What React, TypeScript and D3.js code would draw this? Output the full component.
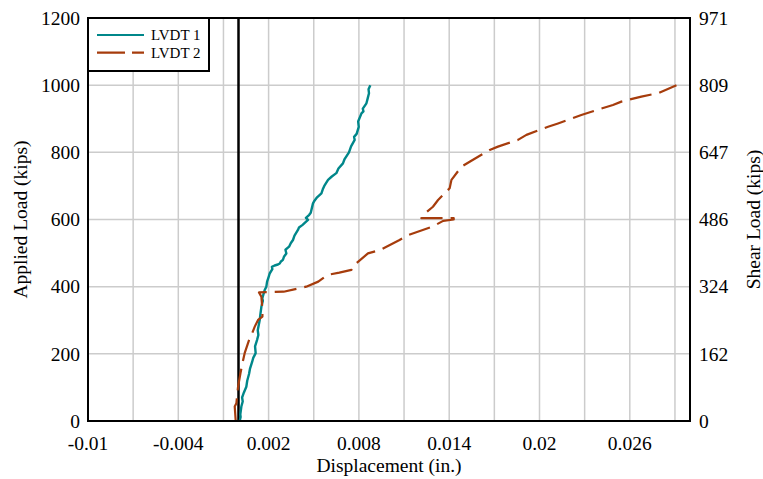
import React from 'react';
import * as d3 from 'd3';

const W = 763;
const H = 479;
const M = { left: 88, right: 73, top: 18, bottom: 58 };

const xDomain = [-0.01, 0.03];
const yDomain = [0, 1200];
const shearMax = 970.8;

const xTickValues = [-0.01, -0.004, 0.002, 0.008, 0.014, 0.02, 0.026];
const xTickLabels = ['-0.01', '-0.004', '0.002', '0.008', '0.014', '0.02', '0.026'];
const xGridValues = [-0.007, -0.004, -0.001, 0.002, 0.005, 0.008, 0.011, 0.014, 0.017, 0.02, 0.023, 0.026, 0.029];
const yTickValues = [0, 200, 400, 600, 800, 1000, 1200];
const shearTickValues = [0, 162, 324, 486, 647, 809, 971];

const lvdt1Disp = [0.00008, 0.00014, 0.00012, 0.00019, 0.00028, 0.00024, 0.00036, 0.00052, 0.00058, 0.0007, 0.00076, 0.0009, 0.00098, 0.00114, 0.0011, 0.00123, 0.00132, 0.00128, 0.00141, 0.00146, 0.00152, 0.00162, 0.00158, 0.00174, 0.00185, 0.0019, 0.00201, 0.00208, 0.00225, 0.00222, 0.0024, 0.00262, 0.00274, 0.00282, 0.00295, 0.00303, 0.00318, 0.00312, 0.00336, 0.00348, 0.00362, 0.00372, 0.00395, 0.00402, 0.00426, 0.0044, 0.00462, 0.00448, 0.0047, 0.0048, 0.00495, 0.00505, 0.00522, 0.00551, 0.0056, 0.0057, 0.00595, 0.0062, 0.0065, 0.00664, 0.00694, 0.00705, 0.00734, 0.00748, 0.00772, 0.00768, 0.00785, 0.00799, 0.00795, 0.00817, 0.0083, 0.00826, 0.0085, 0.00858, 0.00867, 0.00864, 0.00876];
const lvdt1Load = [0, 12, 20, 43, 58, 70, 85, 102, 120, 140, 155, 175, 188, 202, 222, 241, 256, 270, 301, 320, 340, 358, 365, 390, 400, 415, 430, 440, 452, 459, 463, 466, 469, 475, 480, 490, 499, 510, 519, 530, 539, 552, 569, 576, 584, 590, 599, 605, 614, 620, 648, 656, 666, 678, 690, 700, 718, 728, 738, 752, 767, 780, 800, 818, 837, 846, 855, 876, 892, 916, 922, 930, 946, 960, 976, 988, 1000];

const lvdt2Disp = [-0.00019, -0.00025, -0.00014, -0.00003, 0.00013, 0.00026, 0.00041, 0.0007, 0.00086, 0.00108, 0.0013, 0.00159, 0.00159, 0.00152, 0.00136, 0.003, 0.0045, 0.0053, 0.0059, 0.0067, 0.0075, 0.0077, 0.0086, 0.0094, 0.0107, 0.0113, 0.0129, 0.0136, 0.0143, 0.0143, 0.01215, 0.01226, 0.01292, 0.01326, 0.01403, 0.01415, 0.01481, 0.01536, 0.01669, 0.01724, 0.01857, 0.01913, 0.02057, 0.02123, 0.02278, 0.02345, 0.02488, 0.02544, 0.02677, 0.02787, 0.0291];
const lvdt2Load = [3, 43, 53, 102, 142, 172, 202, 241, 256, 281, 301, 311, 331, 370, 383, 385, 400, 415, 435, 442, 450, 465, 499, 509, 539, 554, 579, 596, 600, 604, 604, 613, 638, 658, 693, 718, 757, 772, 807, 817, 837, 852, 876, 886, 911, 921, 941, 951, 966, 976, 1000];

const seriesNames = ['LVDT 1', 'LVDT 2'];
const seriesColors = ['#00878a', '#a63c0c'];

const FONT = "'Liberation Serif', 'Times New Roman', Times, serif";
const FS = 19.5;

export default function App() {
  const x = d3.scaleLinear().domain(xDomain).range([M.left, W - M.right]);
  const y = d3.scaleLinear().domain(yDomain).range([H - M.bottom, M.top]);
  const yShear = d3.scaleLinear().domain([0, shearMax]).range([H - M.bottom, M.top]);

  const line = d3
    .line<[number, number]>()
    .x((d) => x(d[0]))
    .y((d) => y(d[1]))
    .curve(d3.curveLinear);

  const s1: [number, number][] = lvdt1Disp.map((v, i) => [v, lvdt1Load[i]]);
  const s2: [number, number][] = lvdt2Disp.map((v, i) => [v, lvdt2Load[i]]);

  const x0 = M.left;
  const x1 = W - M.right;
  const y0 = H - M.bottom;
  const y1 = M.top;
  const ts = { fontFamily: FONT };

  return (
    <svg
      width={W}
      height={H}
      style={{ position: 'absolute', left: 0, top: 0, background: '#fff', fontFamily: FONT }}
    >
      <rect x={0} y={0} width={W} height={H} fill="#fff" />
      {xGridValues.map((v) => (
        <line key={'gx' + v} x1={x(v)} x2={x(v)} y1={y1} y2={y0} stroke="#cccccc" strokeWidth={1.5} />
      ))}
      {yTickValues.slice(1, -1).map((v) => (
        <line key={'gy' + v} x1={x0} x2={x1} y1={y(v)} y2={y(v)} stroke="#cccccc" strokeWidth={1.5} />
      ))}
      <line x1={x(0)} x2={x(0)} y1={y1} y2={y0} stroke="#000" strokeWidth={2.5} />
      <path d={line(s1) || ''} fill="none" stroke={seriesColors[0]} strokeWidth={2.4} strokeLinejoin="round" />
      <path
        d={line(s2) || ''}
        fill="none"
        stroke={seriesColors[1]}
        strokeWidth={2.2}
        strokeDasharray="22 8"
        strokeLinejoin="round"
      />
      <rect x={x0} y={y1} width={x1 - x0} height={y0 - y1} fill="none" stroke="#000" strokeWidth={2} />
      {xTickValues.map((v, i) => (
        <text key={'xt' + v} x={x(v)} y={450} textAnchor="middle" fontSize={FS} fill="#000" style={ts}>
          {xTickLabels[i]}
        </text>
      ))}
      {yTickValues.map((v) => (
        <text key={'yt' + v} x={80} y={y(v)} dy="0.35em" textAnchor="end" fontSize={FS} fill="#000" style={ts}>
          {v}
        </text>
      ))}
      {shearTickValues.map((v) => (
        <text key={'st' + v} x={699} y={yShear(v)} dy="0.35em" textAnchor="start" fontSize={FS} fill="#000" style={ts}>
          {v}
        </text>
      ))}
      <text x={(x0 + x1) / 2} y={472} textAnchor="middle" fontSize={FS} fill="#000" style={ts}>
        Displacement (in.)
      </text>
      <text
        transform={`translate(27, ${(y0 + y1) / 2}) rotate(-90)`}
        textAnchor="middle"
        fontSize={FS}
        fill="#000"
        style={ts}
      >
        Applied Load (kips)
      </text>
      <text
        transform={`translate(760, ${(y0 + y1) / 2}) rotate(-90)`}
        textAnchor="middle"
        fontSize={FS}
        fill="#000"
        style={ts}
      >
        Shear Load (kips)
      </text>
      <g>
        <rect x={x0} y={y1} width={121} height={53} fill="#fff" stroke="#000" strokeWidth={2} />
        {seriesNames.map((name, i) => (
          <g key={name}>
            <line
              x1={97}
              x2={144}
              y1={35 + i * 17.7}
              y2={35 + i * 17.7}
              stroke={seriesColors[i]}
              strokeWidth={2.2}
              strokeDasharray={i === 1 ? '28 7' : undefined}
            />
            <text x={151} y={35 + i * 17.7} dy="0.35em" fontSize={15} fill="#000" style={ts}>
              {name}
            </text>
          </g>
        ))}
      </g>
    </svg>
  );
}
